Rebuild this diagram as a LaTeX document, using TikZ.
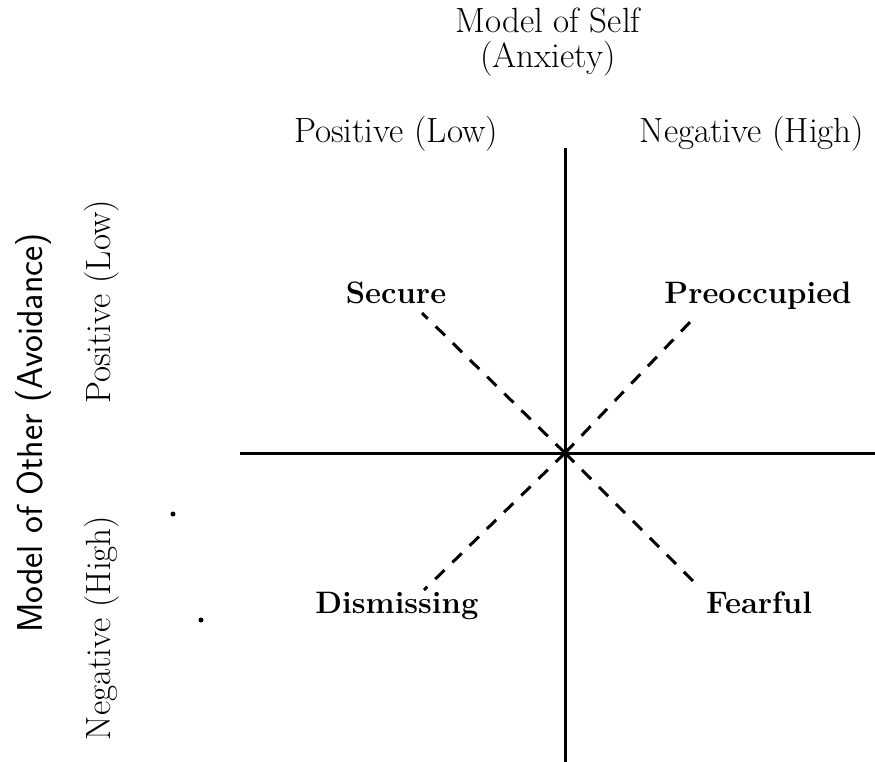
\documentclass[tikz,border=0pt]{standalone}
\begin{document}
\begin{tikzpicture}[x=1pt,y=-1pt,
  lbl/.style={inner sep=0pt,anchor=base,font=\fontsize{35}{40}\selectfont},
  slbl/.style={inner sep=0pt,anchor=base,font=\fontsize{36}{40}\selectfont\sffamily},
  blbl/.style={inner sep=0pt,anchor=base,font=\fontsize{31}{36}\selectfont\bfseries},
  axis/.style={line width=3pt},
  dashline/.style={line width=3pt,dash pattern=on 13pt off 11pt}]
\useasboundingbox (0,0) rectangle (875,762);
% titles
\node[lbl] (self) at (548,33) {Model of Self};
\node[lbl] (anx) at (548,68) {(Anxiety)};
\node[lbl] (posT) at (396,143) {Positive (Low)};
\node[lbl] (negT) at (752,143) {Negative (High)};
\node[slbl,rotate=90] (other) at (42,433) {Model of Other (Avoidance)};
\node[lbl,rotate=90] (posL) at (110,302) {Positive (Low)};
\node[lbl,rotate=90] (negL) at (110,628) {Negative (High)};
% axes
\coordinate (c) at (565,453);
\coordinate (top) at (565,148);
\coordinate (bot) at (565,762);
\coordinate (lft) at (240,453);
\coordinate (rgt) at (875,453);
\draw[axis] (top) -- (bot);
\draw[axis] (lft) -- (rgt);
% styles
\node[blbl] (sec) at (396,303) {Secure};
\node[blbl] (pre) at (758,303) {Preoccupied};
\node[blbl] (dis) at (397,613) {Dismissing};
\node[blbl] (fea) at (759,613) {Fearful};
\coordinate (e1) at (422,313);
\coordinate (e2) at (692,320);
\coordinate (e3) at (424,590);
\coordinate (e4) at (697,585);
\draw[dashline] (c) -- (e1);
\draw[dashline] (c) -- (e2);
\draw[dashline] (c) -- (e3);
\draw[dashline] (c) -- (e4);
% specks
\fill (173,514) circle (2.5pt);
\fill (201,620) circle (2.5pt);
\end{tikzpicture}
\end{document}
